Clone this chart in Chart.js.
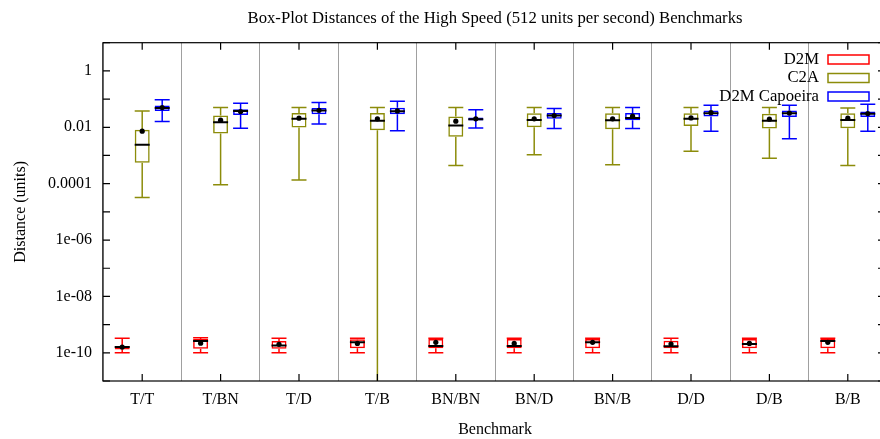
<!DOCTYPE html>
<html>
<head>
<meta charset="utf-8">
<script src="https://cdn.jsdelivr.net/npm/chart.js@4.4.1/dist/chart.umd.min.js"></script>
<style>
  html, body { margin: 0; padding: 0; background: #fff; overflow: hidden; width: 880px; height: 439px; }
  canvas { display: block; }
</style>
</head>
<body>
<canvas id="chart" width="888" height="439"></canvas>
<script>
const categories = ["T/T", "T/BN", "T/D", "T/B", "BN/BN", "BN/D", "BN/B", "D/D", "D/B", "B/B"];
const yTickValues = [1, 1e-2, 1e-4, 1e-6, 1e-8, 1e-10];
const yTickLabels = ["1", "0.01", "0.0001", "1e-06", "1e-08", "1e-10"];

const seriesNames = ["D2M", "C2A", "D2M Capoeira"];
const seriesColors = ["#ff0000", "#8c8c0a", "#0000ff"];

// D2M
const d2mMax = [3.3e-10, 3.4e-10, 3.3e-10, 3.3e-10, 3.3e-10, 3.3e-10, 3.3e-10, 3.3e-10, 3.3e-10, 3.3e-10];
const d2mQ3 = [1.73e-10, 3.1e-10, 2.6e-10, 3.0e-10, 3.1e-10, 3.1e-10, 3.1e-10, 2.7e-10, 3.1e-10, 3.1e-10];
const d2mMedian = [1.6e-10, 2.6e-10, 1.8e-10, 2.35e-10, 1.73e-10, 1.73e-10, 2.35e-10, 1.7e-10, 2.05e-10, 2.6e-10];
const d2mQ1 = [1.3e-10, 1.4e-10, 1.4e-10, 1.44e-10, 1.44e-10, 1.44e-10, 1.44e-10, 1.44e-10, 1.44e-10, 1.44e-10];
const d2mMin = [1e-10, 1e-10, 1e-10, 1e-10, 1e-10, 1e-10, 1e-10, 1e-10, 1e-10, 1e-10];
const d2mMean = [1.6e-10, 2.2e-10, 2.0e-10, 2.15e-10, 2.35e-10, 2.15e-10, 2.35e-10, 2.05e-10, 2.15e-10, 2.35e-10];

// C2A
const c2aMax = [0.038, 0.05, 0.05, 0.05, 0.05, 0.05, 0.05, 0.05, 0.05, 0.048];
const c2aQ3 = [0.0081, 0.026, 0.032, 0.032, 0.024, 0.0315, 0.0315, 0.0315, 0.030, 0.0315];
const c2aMedian = [0.0024, 0.015, 0.020, 0.017, 0.0115, 0.018, 0.0178, 0.020, 0.017, 0.018];
const c2aQ1 = [0.00055, 0.006, 0.0098, 0.0079, 0.0046, 0.010, 0.0085, 0.011, 0.009, 0.0093];
const c2aMin = [3.2e-5, 9.1e-5, 1.36e-4, 1e-13, 4.4e-4, 0.00105, 4.7e-4, 0.0014, 8e-4, 4.4e-4];
const c2aMean = [0.0073, 0.0178, 0.021, 0.020, 0.0164, 0.020, 0.020, 0.0215, 0.0194, 0.021];

// D2M Capoeira
const capMax = [0.094, 0.071, 0.075, 0.084, 0.042, 0.046, 0.05, 0.061, 0.061, 0.066];
const capQ3 = [0.059, 0.044, 0.048, 0.049, 0.022, 0.032, 0.032, 0.039, 0.039, 0.036];
const capMedian = [0.048, 0.038, 0.039, 0.037, 0.0194, 0.026, 0.0215, 0.0315, 0.0315, 0.030];
const capQ1 = [0.038, 0.027, 0.029, 0.029, 0.0173, 0.020, 0.0178, 0.024, 0.023, 0.023];
const capMin = [0.016, 0.0093, 0.013, 0.0076, 0.0095, 0.0090, 0.009, 0.0073, 0.0039, 0.0073];
const capMean = [0.050, 0.036, 0.040, 0.038, 0.020, 0.026, 0.0247, 0.033, 0.032, 0.0306];

const FONT = "'Liberation Serif', 'DejaVu Serif', serif";

function makeDataset(i, min, q1, median, q3, max, mean) {
    return {
        label: seriesNames[i],
        data: categories.map((c, k) => [q1[k], q3[k]]),
        backgroundColor: "rgba(0,0,0,0)",
        borderColor: seriesColors[i],
        borderWidth: 1.5,
        borderSkipped: false,
        stats: { min, q1, median, q3, max, mean }
    };
}

const boxPlugin = {
    id: "boxExtras",
    afterDatasetsDraw(chart) {
        const ctx = chart.ctx;
        const y = chart.scales.y;
        const area = chart.chartArea;
        ctx.save();
        ctx.beginPath();
        ctx.rect(area.left, area.top, area.right - area.left, area.bottom - area.top);
        ctx.clip();
        chart.data.datasets.forEach((ds, di) => {
            const s = ds.stats;
            chart.getDatasetMeta(di).data.forEach((bar, i) => {
                const x = bar.x;
                const half = bar.width / 2;
                const yMax = y.getPixelForValue(s.max[i]);
                const yMin = y.getPixelForValue(s.min[i]);
                ctx.strokeStyle = ds.borderColor;
                ctx.lineWidth = 1.5;
                ctx.beginPath();
                ctx.moveTo(x, y.getPixelForValue(s.q3[i]));
                ctx.lineTo(x, yMax);
                ctx.moveTo(x, y.getPixelForValue(s.q1[i]));
                ctx.lineTo(x, yMin);
                ctx.moveTo(x - half, yMax);
                ctx.lineTo(x + half, yMax);
                ctx.moveTo(x - half, yMin);
                ctx.lineTo(x + half, yMin);
                ctx.stroke();

                // median
                const yMed = y.getPixelForValue(s.median[i]);
                ctx.strokeStyle = "#000";
                ctx.lineWidth = 2;
                ctx.beginPath();
                ctx.moveTo(x - half, yMed);
                ctx.lineTo(x + half, yMed);
                ctx.stroke();

                // mean
                ctx.fillStyle = "#000";
                ctx.beginPath();
                ctx.arc(x, y.getPixelForValue(s.mean[i]), 2.6, 0, Math.PI * 2);
                ctx.fill();
            });
        });
        ctx.restore();
    },
    afterDraw(chart) {
        const ctx = chart.ctx;
        const area = chart.chartArea;
        const xs = chart.scales.x;
        const ys = chart.scales.y;
        ctx.save();
        ctx.strokeStyle = "#000";
        ctx.lineWidth = 1.2;
        ctx.strokeRect(area.left, area.top, area.right - area.left, area.bottom - area.top);

        // inward ticks, gnuplot style
        ctx.beginPath();
        for (let e = -11; e <= 1; e++) {
            const py = ys.getPixelForValue(Math.pow(10, e));
            ctx.moveTo(area.left, py);
            ctx.lineTo(area.left + 7, py);
            ctx.moveTo(area.right, py);
            ctx.lineTo(area.right - 9, py);
        }
        categories.forEach((c, i) => {
            const px = xs.getPixelForValue(i);
            ctx.moveTo(px, area.bottom);
            ctx.lineTo(px, area.bottom - 7);
            ctx.moveTo(px, area.top);
            ctx.lineTo(px, area.top + 7);
        });
        ctx.stroke();

        // legend
        ctx.font = "16.7px " + FONT;
        ctx.textAlign = "right";
        ctx.textBaseline = "middle";
        const rows = [59.5, 78, 96.5];
        chart.data.datasets.forEach((ds, i) => {
            ctx.fillStyle = "#000";
            ctx.fillText(ds.label, 819, rows[i]);
            ctx.strokeStyle = ds.borderColor;
            ctx.lineWidth = 1.5;
            ctx.strokeRect(828, rows[i] - 4.5, 41, 9);
        });
        ctx.restore();
    }
};

new Chart(document.getElementById("chart"), {
    type: "bar",
    data: {
        labels: categories,
        datasets: [
            makeDataset(0, d2mMin, d2mQ1, d2mMedian, d2mQ3, d2mMax, d2mMean),
            makeDataset(1, c2aMin, c2aQ1, c2aMedian, c2aQ3, c2aMax, c2aMean),
            makeDataset(2, capMin, capQ1, capMedian, capQ3, capMax, capMean)
        ]
    },
    options: {
        responsive: false,
        animation: false,
        devicePixelRatio: 1,
        layout: { padding: { left: 0, right: 1, top: 0, bottom: 0 } },
        datasets: { bar: { categoryPercentage: 0.765, barPercentage: 0.75 } },
        plugins: {
            legend: { display: false },
            tooltip: { enabled: false },
            title: {
                display: true,
                fullSize: false,
                text: "Box-Plot Distances of the High Speed (512 units per second) Benchmarks",
                color: "#000",
                font: { family: FONT, size: 16.7, weight: "normal" },
                padding: { top: 9, bottom: 13.66 }
            }
        },
        scales: {
            x: {
                type: "category",
                grid: { color: "#a0a0a0", drawTicks: false, offset: true },
                border: { display: false },
                ticks: { color: "#000", padding: 9, font: { family: FONT, size: 16 }, maxRotation: 0, autoSkip: false },
                title: { display: true, text: "Benchmark", color: "#000", font: { family: FONT, size: 16 }, padding: { top: 0, bottom: 0 } },
                afterFit(scale) { scale.height = 58; }
            },
            y: {
                type: "logarithmic",
                min: 1e-11,
                max: 10,
                grid: { display: false, drawTicks: false },
                border: { display: false },
                afterBuildTicks(scale) {
                    scale.ticks = yTickValues.map(v => ({ value: v }));
                },
                ticks: {
                    color: "#000",
                    padding: 11,
                    autoSkip: false,
                    font: { family: FONT, size: 16 },
                    callback(value) {
                        const k = yTickValues.findIndex(v => Math.abs(Math.log10(v) - Math.log10(value)) < 1e-6);
                        return k >= 0 ? yTickLabels[k] : "";
                    }
                },
                title: { display: true, text: "Distance (units)", color: "#000", font: { family: FONT, size: 16 }, padding: { top: 11, bottom: 0 } },
                afterFit(scale) { scale.width = 103; }
            }
        }
    },
    plugins: [boxPlugin]
});
</script>
</body>
</html>
